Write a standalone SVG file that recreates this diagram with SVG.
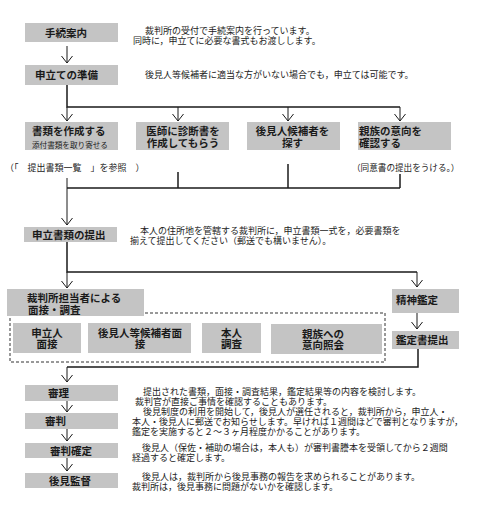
<svg xmlns="http://www.w3.org/2000/svg" width="500" height="506" viewBox="0 0 500 506">
<style>
.box{fill:#c4c4c4}
.lbl{font-family:"Liberation Sans","Noto Sans CJK JP",sans-serif;font-size:10.5px;font-weight:bold;fill:#1a1a1a}
.sml{font-size:7.6px;font-weight:normal}
.dsc{font-family:"Liberation Sans","Noto Sans CJK JP",sans-serif;font-size:9px;fill:#222}
.c{text-anchor:middle}
.ln{stroke:#1a1a1a;stroke-width:1.5;fill:none}
.ar{stroke:#1a1a1a;stroke-width:1;fill:none;marker-end:url(#v)}
.dash{fill:none;stroke:#333;stroke-width:1;stroke-dasharray:3,2}
</style>
<defs>
<marker id="v" markerUnits="userSpaceOnUse" markerWidth="14" markerHeight="14" viewBox="-8 -7 10 14" refX="0" refY="0" orient="auto">
<path d="M-7,-5.5 L0,0 L-7,5.5" fill="none" stroke="#1a1a1a" stroke-width="1"/>
</marker>
</defs>
<rect width="500" height="506" fill="#fff"/>

<g id="connectors">
<line class="ar" x1="67" y1="46" x2="67" y2="63"/>
<polyline class="ln" points="67,85 67,107 400,107"/>
<line class="ar" x1="67" y1="107" x2="67" y2="121"/>
<line class="ar" x1="178" y1="107" x2="178" y2="121"/>
<line class="ar" x1="288" y1="107" x2="288" y2="121"/>
<line class="ar" x1="400" y1="107" x2="400" y2="121"/>
<line class="ln" x1="178" y1="172" x2="178" y2="188"/>
<line class="ln" x1="288" y1="164" x2="288" y2="188"/>
<line class="ln" x1="400" y1="174" x2="400" y2="188"/>
<line class="ln" x1="67" y1="188" x2="400" y2="188"/>
<line class="ar" x1="67" y1="178" x2="67" y2="225"/>
<polyline class="ln" points="67,242 67,272 417,272"/>
<line class="ar" x1="67" y1="272" x2="67" y2="288"/>
<line class="ar" x1="417" y1="272" x2="417" y2="287"/>
<line class="ar" x1="417" y1="313" x2="417" y2="329"/>
<polyline class="ln" points="418,349 418,367 67,367"/>
<line class="ar" x1="67" y1="367" x2="67" y2="382"/>
<line class="ar" x1="67" y1="401" x2="67" y2="412"/>
<line class="ar" x1="67" y1="429" x2="67" y2="441"/>
<line class="ar" x1="67" y1="458" x2="67" y2="471"/>
</g>

<g id="n-tetsuzuki">
<rect class="box" x="25" y="23" width="93" height="19"/>
<text class="lbl" x="45" y="36.5">手続案内</text>
<text class="dsc"><tspan x="145" y="33.5">裁判所の受付で手続案内を行っています。</tspan><tspan x="133" y="43.5">同時に，申立てに必要な書式もお渡しします。</tspan></text>
</g>

<g id="n-junbi">
<rect class="box" x="25" y="65" width="93" height="20"/>
<text class="lbl" x="35" y="79">申立ての準備</text>
<text class="dsc" x="145" y="77.5">後見人等候補者に適当な方がいない場合でも，申立ては可能です。</text>
</g>

<g id="n-shorui">
<rect class="box" x="25" y="122" width="93" height="28"/>
<text class="lbl"><tspan x="32" y="135">書類を作成する</tspan><tspan class="sml" x="32" y="147.5">添付書類を取り寄せる</tspan></text>
<text class="dsc" x="5" y="170.5">（「　提出書類一覧　」を参照　）</text>
</g>

<g id="n-ishi">
<rect class="box" x="136" y="122" width="93" height="28"/>
<text class="lbl c"><tspan x="183" y="135">医師に診断書を</tspan><tspan x="183" y="147">作成してもらう</tspan></text>
</g>

<g id="n-kouho">
<rect class="box" x="247" y="122" width="93" height="28"/>
<text class="lbl c"><tspan x="292.5" y="135">後見人候補者を</tspan><tspan x="292.5" y="147">探す</tspan></text>
</g>

<g id="n-shinzoku">
<rect class="box" x="358" y="122" width="93" height="28"/>
<text class="lbl"><tspan x="359" y="135">親族の意向を</tspan><tspan x="359" y="147">確認する</tspan></text>
<text class="dsc" x="352" y="170.5" style="font-size:8.6px">（同意書の提出をうける。）</text>
</g>

<g id="n-teishutsu">
<rect class="box" x="24" y="227" width="93" height="15"/>
<text class="lbl" x="32" y="238.5">申立書類の提出</text>
<text class="dsc"><tspan x="140" y="233.5">本人の住所地を管轄する裁判所に，申立書類一式を，必要書類を</tspan><tspan x="130" y="243.5">揃えて提出してください（郵送でも構いません）。</tspan></text>
</g>

<g id="n-chousa">
<rect class="dash" x="10" y="313" width="375" height="49"/>
<rect class="box" x="7" y="289" width="137" height="27"/>
<text class="lbl"><tspan x="27" y="302">裁判所担当者による</tspan><tspan x="28" y="314">面接・調査</tspan></text>
</g>

<g id="n-moushitatenin">
<rect class="box" x="13" y="323" width="68" height="30"/>
<text class="lbl c"><tspan x="47" y="336.5">申立人</tspan><tspan x="47" y="348">面接</tspan></text>
</g>

<g id="n-kouhomensetsu">
<rect class="box" x="88" y="323" width="103" height="30"/>
<text class="lbl c"><tspan x="140" y="336.5">後見人等候補者面</tspan><tspan x="140" y="348">接</tspan></text>
</g>

<g id="n-honnin">
<rect class="box" x="202" y="323" width="59" height="30"/>
<text class="lbl c"><tspan x="231.5" y="336.5">本人</tspan><tspan x="231.5" y="348">調査</tspan></text>
</g>

<g id="n-shoukai">
<rect class="box" x="271" y="324" width="111" height="30"/>
<text class="lbl c"><tspan x="323" y="337.5">親族への</tspan><tspan x="323" y="349">意向照会</tspan></text>
</g>

<g id="n-seishin">
<rect class="box" x="392" y="289" width="67" height="24"/>
<text class="lbl" x="396" y="304">精神鑑定</text>
</g>

<g id="n-kanteisho">
<rect class="box" x="392" y="331" width="67" height="18"/>
<text class="lbl" x="396" y="344">鑑定書提出</text>
</g>

<g id="n-shinri">
<rect class="box" x="25" y="385" width="93" height="16"/>
<text class="lbl" x="48" y="397">審理</text>
<text class="dsc"><tspan x="143" y="394.5">提出された書類，面接・調査結果，鑑定結果等の内容を検討します。</tspan><tspan x="135" y="404.5">裁判官が直接ご事情を確認することもあります。</tspan></text>
</g>

<g id="n-shinpan">
<rect class="box" x="25" y="413" width="93" height="16"/>
<text class="lbl" x="45" y="425">審判</text>
<text class="dsc"><tspan x="143" y="414.5">後見制度の利用を開始して，後見人が選任されると，裁判所から，申立人・</tspan><tspan x="132" y="424.5">本人・後見人に郵送でお知らせします。早ければ１週間ほどで審判となりますが，</tspan><tspan x="132" y="434.5">鑑定を実施すると２～３ヶ月程度かかることがあります。</tspan></text>
</g>

<g id="n-kakutei">
<rect class="box" x="25" y="443" width="93" height="15"/>
<text class="lbl" x="50" y="454.5">審判確定</text>
<text class="dsc"><tspan x="142" y="450.5">後見人（保佐・補助の場合は，本人も）が審判書謄本を受領してから２週間</tspan><tspan x="132" y="460.5">経過すると確定します。</tspan></text>
</g>

<g id="n-kantoku">
<rect class="box" x="25" y="473" width="93" height="15"/>
<text class="lbl" x="49" y="484.5">後見監督</text>
<text class="dsc"><tspan x="142" y="479.5">後見人は，裁判所から後見事務の報告を求められることがあります。</tspan><tspan x="132" y="489.5">裁判所は，後見事務に問題がないかを確認します。</tspan></text>
</g>
</svg>
